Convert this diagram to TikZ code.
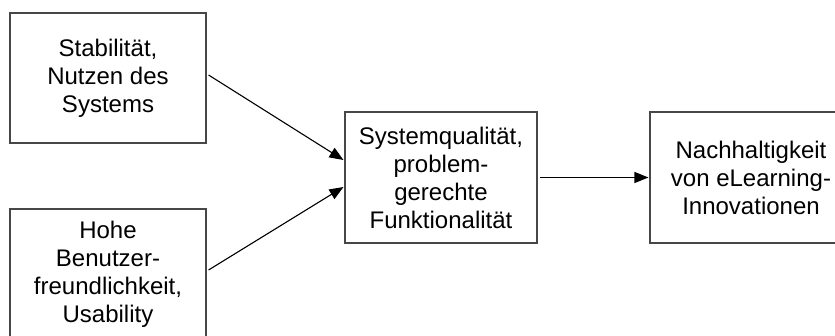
\documentclass[tikz,border=0pt]{standalone}
\usepackage{fontspec}
\setmainfont{Liberation Sans}
\usetikzlibrary{arrows.meta,calc}

\tikzset{
  factor/.style={draw=black!72, line width=1.1pt, inner sep=0pt, align=center,
    font=\fontsize{24}{28}\selectfont},
  link/.style={line width=1.1pt, -{Triangle[length=14pt,width=11pt]}},
}

\begin{document}
\begin{tikzpicture}[x=1pt,y=-1pt]
  \useasboundingbox (0,0) rectangle (835,336);
  \clip (0,0) rectangle (835,336);

  \node[factor, minimum width=196pt, minimum height=130pt] (stab) at (108,78)
    {Stabilität,\\Nutzen des\\Systems};
  \node[factor, minimum width=196pt, minimum height=130pt] (usab) at (108,274)
    {Hohe\\Benutzer-\\freundlichkeit,\\Usability};
  \node[factor, minimum width=192pt, minimum height=131pt] (qual) at (441,177.5)
    {Systemqualität,\\problem-\\gerechte\\Funktionalität};
  \node[factor, minimum width=202pt, minimum height=131pt] (nach) at (751,177.5)
    {Nachhaltigkeit\\von eLearning-\\Innovationen};

  \draw[link] ($(stab.east)+(2,-3)$) -- ($(qual.west)+(-1,-17.5)$);
  \draw[link] ($(usab.east)+(2,-4)$) -- ($(qual.west)+(-1,9.5)$);
  \draw[link] ($(qual.east)+(2,0)$) -- ($(nach.west)+(-1,0)$);
\end{tikzpicture}
\end{document}
